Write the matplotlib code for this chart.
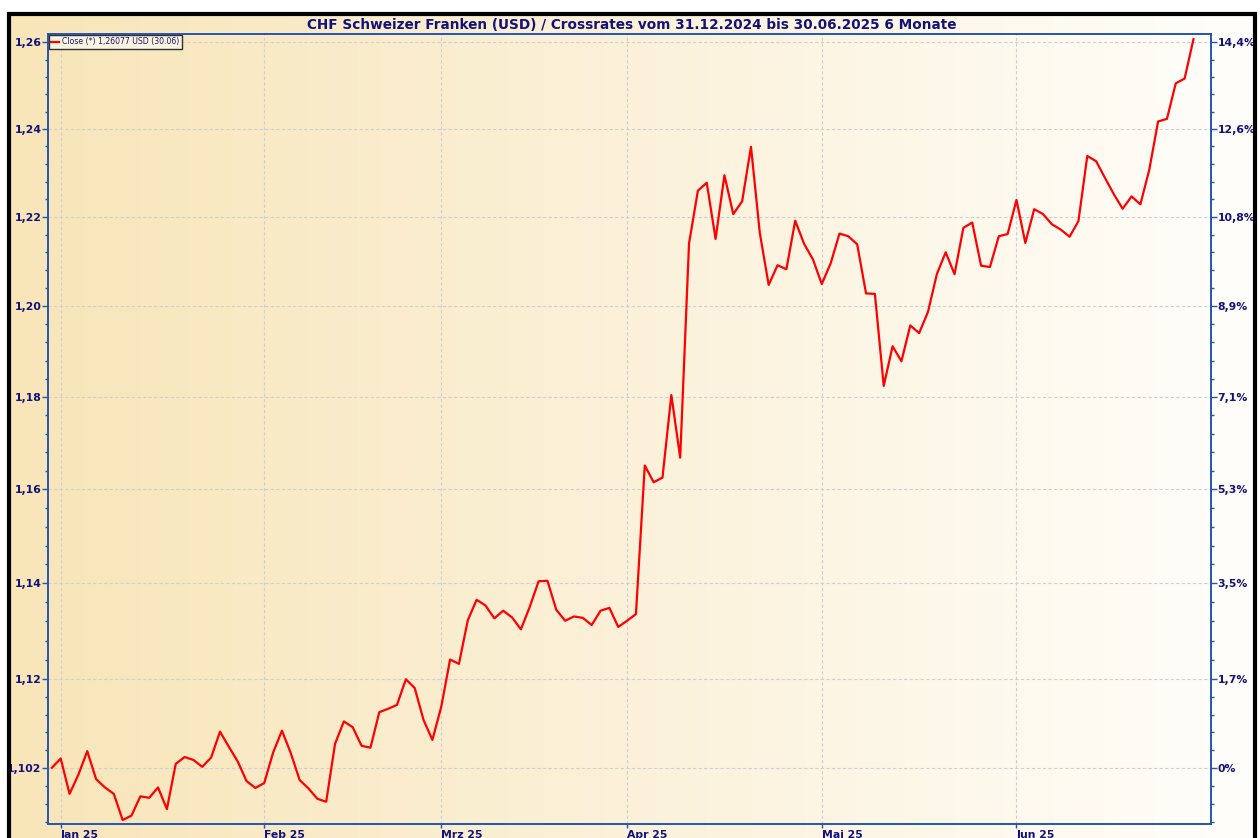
import numpy as np
import pandas as pd
import matplotlib
matplotlib.use("Agg")
import matplotlib.pyplot as plt
from matplotlib.lines import Line2D
from matplotlib.ticker import FixedLocator, NullFormatter

# ---------------- data ----------------
dates = pd.bdate_range("2024-12-31", "2025-06-30")

close_dec = [1.1017]
close_jan = [1.1036, 1.0964, 1.1003, 1.1051, 1.0994, 1.0977, 1.0964, 1.0911, 1.0920,
             1.0959, 1.0956, 1.0977, 1.0933, 1.1025, 1.1039, 1.1033, 1.1019, 1.1038,
             1.1091, 1.1060, 1.1030, 1.0990, 1.0976]
close_feb = [1.0986, 1.1048, 1.1093, 1.1047, 1.0992, 1.0975, 1.0954, 1.0948, 1.1066,
             1.1112, 1.1100, 1.1062, 1.1058, 1.1131, 1.1138, 1.1146, 1.1199, 1.1181,
             1.1115, 1.1074]
close_mar = [1.1142, 1.1240, 1.1231, 1.1322, 1.1365, 1.1353, 1.1326, 1.1342, 1.1328,
             1.1303, 1.1350, 1.1404, 1.1405, 1.1344, 1.1321, 1.1330, 1.1327, 1.1312,
             1.1342, 1.1348, 1.1308]
close_apr = [1.1321, 1.1335, 1.1651, 1.1615, 1.1625, 1.1804, 1.1668, 1.2140, 1.2259,
             1.2277, 1.2150, 1.2294, 1.2206, 1.2235, 1.2359, 1.2163, 1.2047, 1.2091,
             1.2082, 1.2191, 1.2139, 1.2104]
close_may = [1.2049, 1.2095, 1.2162, 1.2156, 1.2138, 1.2028, 1.2027, 1.1824, 1.1911,
             1.1878, 1.1957, 1.1940, 1.1987, 1.2071, 1.2120, 1.2071, 1.2175, 1.2187,
             1.2090, 1.2087, 1.2156, 1.2161]
close_jun = [1.2238, 1.2141, 1.2217, 1.2206, 1.2183, 1.2171, 1.2155, 1.2190, 1.2338,
             1.2326, 1.2288, 1.2251, 1.2218, 1.2246, 1.2228, 1.2306, 1.2417, 1.2423,
             1.2505, 1.2516, 1.26077]
close = np.array(close_dec + close_jan + close_feb + close_mar + close_apr + close_may + close_jun)

left_ticks = [1.1016, 1.12, 1.14, 1.16, 1.18, 1.20, 1.22, 1.24, 1.26]
left_labels = ["1,102", "1,12", "1,14", "1,16", "1,18", "1,20", "1,22", "1,24", "1,26"]
right_labels = ["0%", "1,7%", "3,5%", "5,3%", "7,1%", "8,9%", "10,8%", "12,6%", "14,4%"]
month_labels = ["Jan 25", "Feb 25", "Mrz 25", "Apr 25", "Mai 25", "Jun 25"]

title = "CHF Schweizer Franken (USD) / Crossrates vom 31.12.2024 bis 30.06.2025 6 Monate"

# ---------------- styling ----------------
W, H = 1260, 838
NAVY = "#12127A"
BLUE = "#2455B0"
YMIN, YMAX = 1.0903, 1.2619

fig = plt.figure(figsize=(W / 100, H / 100), dpi=100)
fig.patch.set_facecolor("white")

# gradient background inside the black frame
bg = fig.add_axes([9 / W, 0, (1254 - 9) / W, 1 - 15 / H])
t = np.linspace(0, 1, 600)
c0 = np.array([248, 229, 184]) / 255
c1 = np.array([255, 254, 251]) / 255
img = (c0[None, :] + (c1 - c0)[None, :] * t[:, None])[None, :, :]
bg.imshow(img, aspect="auto", extent=[0, 1, 0, 1], interpolation="bilinear")
bg.set_axis_off()

# main axes
ax = fig.add_axes([48 / W, 1 - 824 / H, (1211 - 48) / W, (824 - 34.3) / H])
ax.patch.set_alpha(0)
x = np.arange(len(close))
last_lbl = f"Close (*) {close[-1]:.5f} USD ({dates[-1].strftime('%d.%m')})".replace(".", ",", 1)
ax.plot(x, close, color="#FF0000", lw=1.6, label=last_lbl, zorder=3)

ax.set_yscale("log")
ax.set_ylim(YMIN, YMAX)
ax.set_xlim(-0.435, 130.98)

# minor ticks: 5 subdivisions between majors (log spacing)
minor = []
for a, b in zip(left_ticks[:-1], left_ticks[1:]):
    minor.extend(np.geomspace(a, b, 6)[1:-1])
step = (left_ticks[1] / left_ticks[0]) ** (1 / 5)
v = left_ticks[0] / step
while v > YMIN:
    minor.append(v)
    v /= step

ax.yaxis.set_major_locator(FixedLocator(left_ticks))
ax.set_yticklabels(left_labels)
ax.yaxis.set_minor_locator(FixedLocator(minor))
ax.yaxis.set_minor_formatter(NullFormatter())

# month ticks
month_idx = [int(np.argmax((dates.month == m) & (dates.year == 2025))) for m in range(1, 7)]
ax.set_xticks(month_idx)
ax.set_xticklabels(month_labels)
for lbl in ax.get_xticklabels():
    lbl.set_ha("left")

ax.grid(True, which="major", color="#CFCFCF", ls=(0, (3, 2)), lw=0.8)
ax.set_axisbelow(True)

for sp in ax.spines.values():
    sp.set_color(BLUE)
    sp.set_linewidth(1.2)

ax.tick_params(axis="y", which="major", length=4, width=1, color=BLUE, pad=0.8,
               labelsize=7.8, labelcolor=NAVY)
ax.tick_params(axis="y", which="minor", length=2, width=1, color=BLUE)
ax.tick_params(axis="x", length=3, width=1, color=BLUE, pad=1.5,
               labelsize=7.8, labelcolor=NAVY)
for lbl in ax.get_yticklabels() + ax.get_xticklabels():
    lbl.set_fontweight("bold")

# right axis (percent)
ax2 = ax.twinx()
ax2.set_yscale("log")
ax2.set_ylim(YMIN, YMAX)
ax2.yaxis.set_major_locator(FixedLocator(left_ticks))
ax2.set_yticklabels(right_labels)
ax2.yaxis.set_minor_locator(FixedLocator(minor))
ax2.yaxis.set_minor_formatter(NullFormatter())
ax2.tick_params(axis="y", which="major", length=4, width=1, color=BLUE, pad=0.8,
                labelsize=7.8, labelcolor=NAVY)
ax2.tick_params(axis="y", which="minor", length=2, width=1, color=BLUE)
for lbl in ax2.get_yticklabels():
    lbl.set_fontweight("bold")
for sp in ax2.spines.values():
    sp.set_color(BLUE)
    sp.set_linewidth(1.2)

# legend
leg = ax.legend(loc="upper left", bbox_to_anchor=(0, 1), borderaxespad=0.1,
                fontsize=5.6, handlelength=1.0, handletextpad=0.4, borderpad=0.3,
                frameon=True, fancybox=False, edgecolor="#303030",
                facecolor="#FCF4E2", framealpha=1)
leg.get_frame().set_linewidth(1.0)
for txt in leg.get_texts():
    txt.set_color("#1A1A60")

# title
fig.text(632 / W, 1 - 25 / H, title, ha="center", va="center", fontsize=9.85,
         fontweight="bold", color=NAVY)

# black frame (no bottom edge)
fig.add_artist(Line2D([8.5 / W, 8.5 / W, 1254.5 / W, 1254.5 / W],
                      [0, 1 - 14.3 / H, 1 - 14.3 / H, 0],
                      transform=fig.transFigure, color="black", lw=3,
                      solid_joinstyle="miter"))

fig.savefig("out.png", dpi=100)
